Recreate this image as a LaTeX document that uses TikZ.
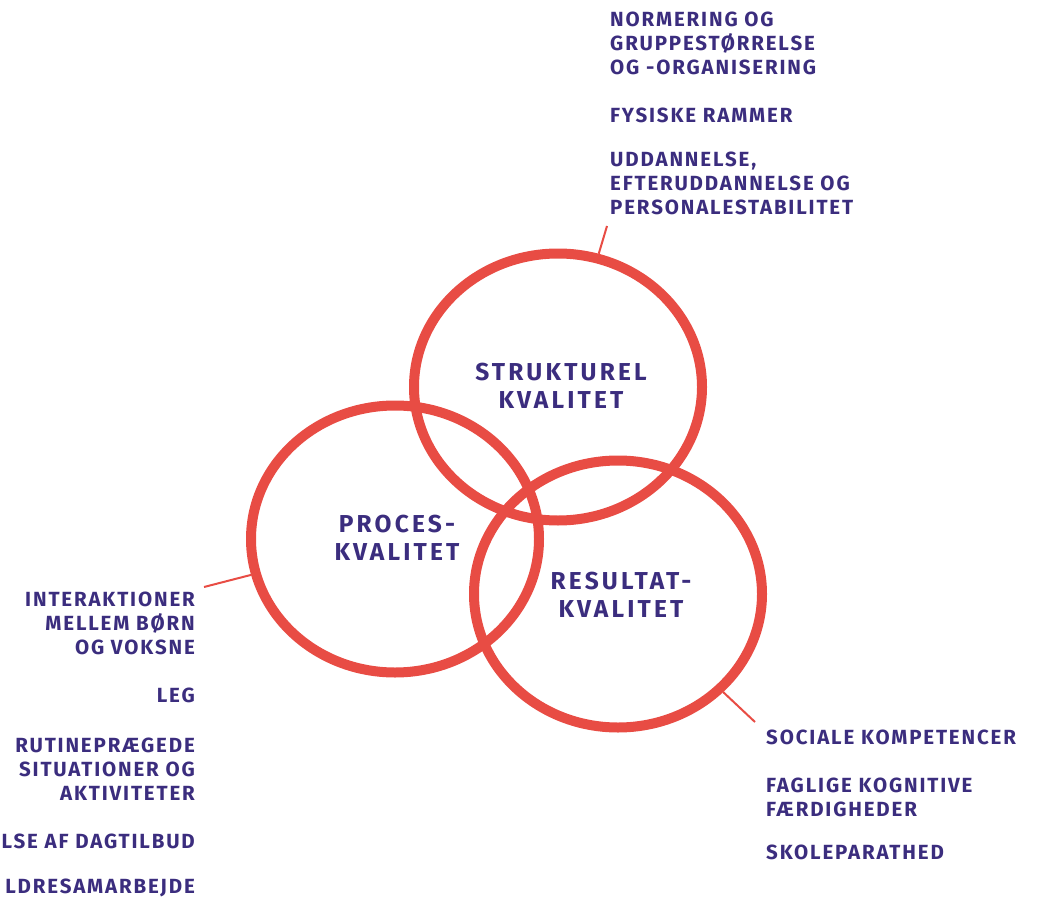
\documentclass[tikz,border=0pt]{standalone}
\usepackage{fontspec}
\setmainfont{Fira Sans}
\newfontfamily\itemfont{Fira Sans}[LetterSpace=9]
\newfontfamily\titlefont{Fira Sans}[LetterSpace=13]
\usetikzlibrary{shapes.geometric}
\definecolor{ringred}{HTML}{E84C44}
\definecolor{ink}{HTML}{3B2D7E}
\begin{document}
\begin{tikzpicture}[x=1pt,y=-1pt,
  ring/.style={ellipse, draw=ringred, line width=10pt, minimum width=288pt, minimum height=267pt, inner sep=0pt},
  lead/.style={draw=ringred, line width=2pt},
  item/.style={text=ink, font=\fontsize{20.5}{24}\selectfont\itemfont\bfseries, inner sep=0pt},
  itemL/.style={item, anchor=north west, align=left},
  itemR/.style={item, anchor=north east, align=right},
  title/.style={text=ink, font=\fontsize{24.5}{28}\selectfont\titlefont\bfseries, inner sep=0pt, align=center}]
\useasboundingbox (0,0) rectangle (1039,899);

% circles
\node[ring] (S) at (558,387) {};
\node[ring] (P) at (395,539) {};
\node[ring] (R) at (618,594) {};

% titles
\node[title] (St) at (561,386) {STRUKTUREL\\KVALITET};
\node[title] (Pt) at (397,538) {PROCES-\\KVALITET};
\node[title] (Rt) at (621,595) {RESULTAT-\\KVALITET};

% leader ends
\coordinate (Se) at (607,226);
\coordinate (Pe) at (204,587);
\coordinate (Re) at (755,722);
\draw[lead] (S.73.5) -- (Se);
\draw[lead] (P.194.7) -- (Pe);
\draw[lead] (R.317) -- (Re);

% structural items
\node[itemL] (s1) at (610,12) {NORMERING OG\\GRUPPESTØRRELSE\\OG -ORGANISERING};
\node[itemL] (s2) at (610,108) {FYSISKE RAMMER};
\node[itemL] (s3) at (610,152) {UDDANNELSE,\\EFTERUDDANNELSE OG\\PERSONALESTABILITET};

% process items
\node[itemR] (p1) at (195,592) {INTERAKTIONER\\MELLEM BØRN\\OG VOKSNE};
\node[itemR] (p2) at (195,688) {LEG};
\node[itemR] (p3) at (195,738) {RUTINEPRÆGEDE\\SITUATIONER OG\\AKTIVITETER};
\node[itemR] (p4) at (195,834) {LSE AF DAGTILBUD};
\node[itemR] (p5) at (195,879) {LDRESAMARBEJDE};

% result items
\node[itemL] (r1) at (766,730) {SOCIALE KOMPETENCER};
\node[itemL] (r2) at (766,778) {FAGLIGE KOGNITIVE\\FÆRDIGHEDER};
\node[itemL] (r3) at (766,845) {SKOLEPARATHED};
\end{tikzpicture}
\end{document}
